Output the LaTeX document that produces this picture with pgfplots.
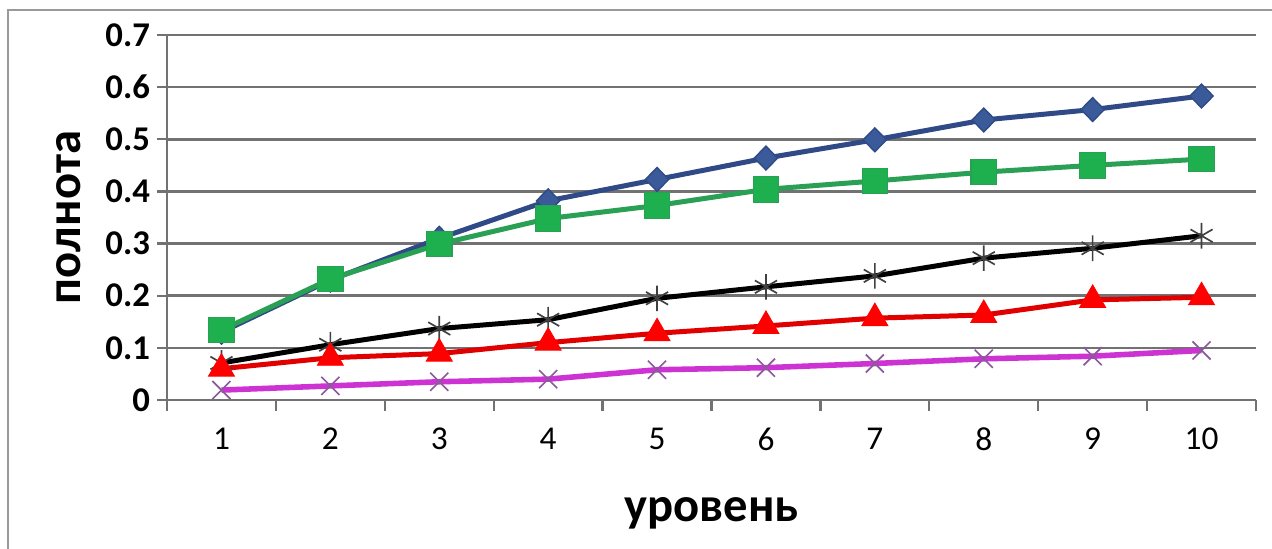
\documentclass[border=0pt]{standalone}
\usepackage{fontspec}
\setmainfont{Carlito}
\usepackage{pgfplots}
\pgfplotsset{compat=1.18}

\definecolor{bluel}{HTML}{2F4A86}
\definecolor{bluem}{HTML}{3A5A9A}
\definecolor{greenl}{HTML}{2AA055}
\definecolor{greenm}{HTML}{1EAF4E}
\definecolor{redl}{HTML}{E00000}
\definecolor{redm}{HTML}{FF0000}
\definecolor{magl}{HTML}{CC33D2}
\definecolor{magm}{HTML}{8A5A9A}
\definecolor{gridc}{HTML}{727272}
\definecolor{framec}{HTML}{9A9A9A}

% one series per table: level, recall
\pgfplotstableread{
x y
1 0.130
2 0.230
3 0.310
4 0.382
5 0.423
6 0.464
7 0.499
8 0.537
9 0.557
10 0.583
}\blueser
\pgfplotstableread{
x y
1 0.134
2 0.232
3 0.299
4 0.348
5 0.373
6 0.404
7 0.420
8 0.437
9 0.450
10 0.462
}\greenser
\pgfplotstableread{
x y
1 0.071
2 0.106
3 0.137
4 0.154
5 0.195
6 0.217
7 0.238
8 0.272
9 0.291
10 0.315
}\blackser
\pgfplotstableread{
x y
1 0.060
2 0.081
3 0.089
4 0.110
5 0.128
6 0.142
7 0.157
8 0.163
9 0.192
10 0.197
}\redser
\pgfplotstableread{
x y
1 0.019
2 0.027
3 0.035
4 0.040
5 0.058
6 0.062
7 0.070
8 0.079
9 0.084
10 0.095
}\magser

\begin{document}
\begin{tikzpicture}
\useasboundingbox (0,0) rectangle (457.92pt,197.64pt);
\draw[framec, line width=0.6pt] (2.88pt,0) -- (2.88pt,194.04pt) -- (457.92pt,194.04pt);
\begin{axis}[
  scale only axis,
  width=392.04pt, height=131.4pt,
  anchor=south west, at={(60.12pt,53.64pt)},
  xmin=0.5, xmax=10.5, ymin=0, ymax=0.7,
  enlargelimits=false,
  axis x line=bottom, axis y line=left,
  axis line style={-, gridc, line width=0.8pt},
  xtick={1,...,10},
  minor xtick={0.5,1.5,...,10.5},
  ytick={0,0.1,...,0.7},
  major x tick style={draw=none},
  minor x tick style={gridc, line width=0.8pt},
  major y tick style={gridc, line width=0.8pt},
  tick align=outside,
  major tick length=3.6pt,
  minor tick length=4pt,
  ymajorgrids,
  major grid style={gridc, line width=0.9pt},
  /pgf/number format/assume math mode=true,
  /pgf/number format/fixed,
  /pgf/number format/precision=1,
  xticklabel style={font=\fontsize{12}{14}\selectfont, yshift=-3pt},
  yticklabel style={font=\fontsize{12.5}{14}\selectfont\bfseries, xshift=1pt},
  xlabel={уровень},
  ylabel={полнота},
  xlabel style={font=\fontsize{17.5}{20}\selectfont\bfseries, at={(axis description cs:0.5,-0.334)}, anchor=base},
  ylabel style={font=\fontsize{17.5}{20}\selectfont\bfseries, at={(axis description cs:-0.0798,0.5)}, anchor=base, rotate=0},
  clip=false,
]
\addplot[bluel, line width=1.8pt, mark=diamond*, mark size=4.3pt,
  mark options={fill=bluem, draw=bluel, line width=0.5pt, xscale=1.3}] table {\blueser};
\addplot[greenl, line width=1.8pt, mark=square*, mark size=4.6pt,
  mark options={fill=greenm, draw=greenl, line width=0.4pt}] table {\greenser};
\addplot[black, line width=1.8pt, mark=asterisk, mark size=4.6pt,
  mark options={draw=black!75, line width=0.6pt}] table {\blackser};
\addplot[redl, line width=1.8pt, mark=triangle*, mark size=5.4pt,
  mark options={fill=redm, draw=redm, line width=0.3pt}] table {\redser};
\addplot[magl, line width=2pt, mark=x, mark size=4.6pt,
  mark options={draw=magm, line width=0.6pt}] table {\magser};
\end{axis}
\end{tikzpicture}
\end{document}
